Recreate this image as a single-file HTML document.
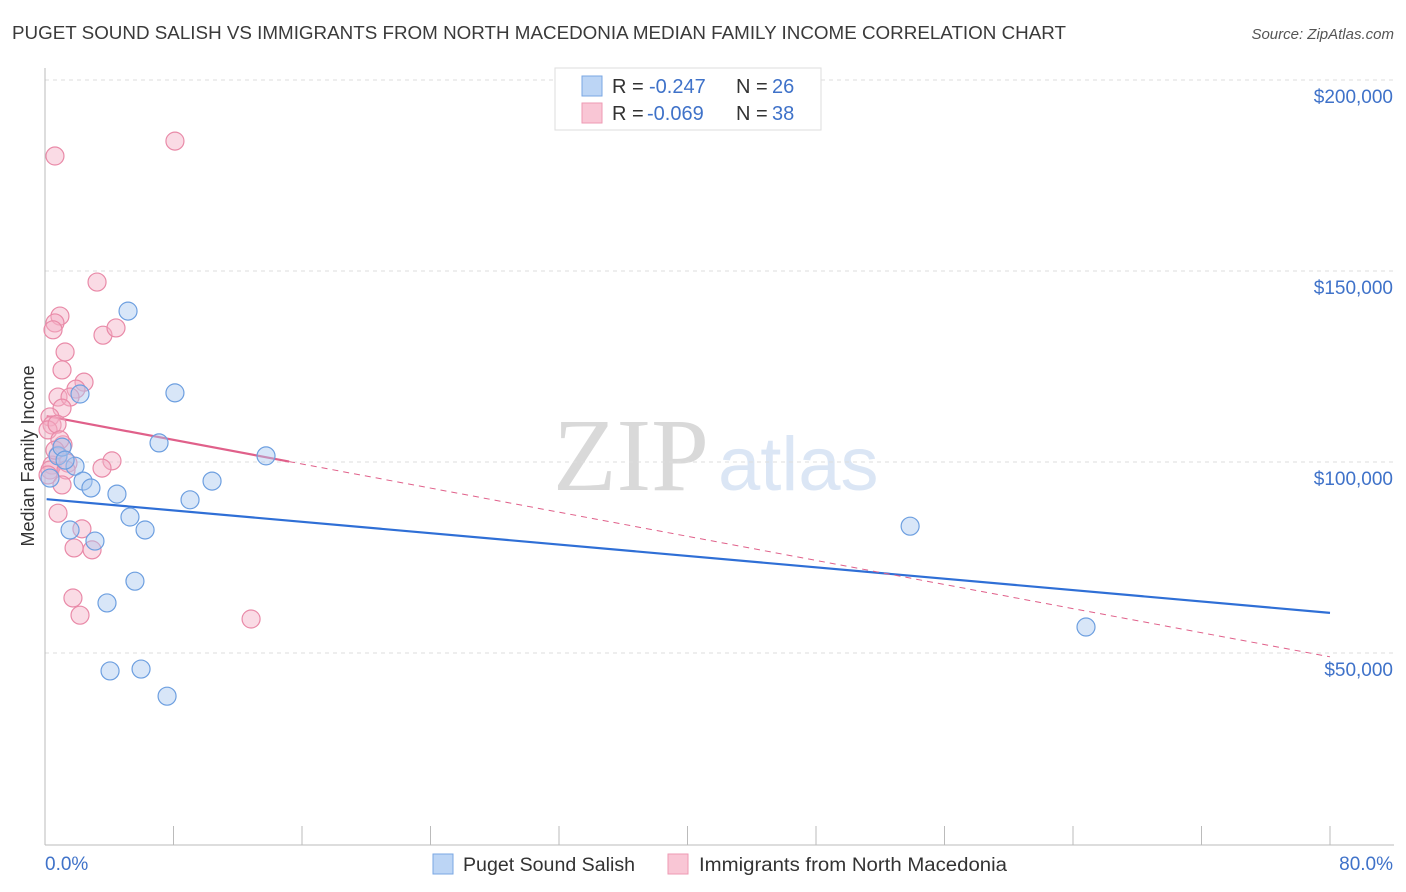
<!DOCTYPE html>
<html><head><meta charset="utf-8"><style>
body{margin:0;background:#fff;font-family:"Liberation Sans",sans-serif;}
svg{display:block}
</style></head><body>
<svg id="chart" width="1406" height="892" viewBox="0 0 1406 892" xmlns="http://www.w3.org/2000/svg">
<text x="12" y="39" font-size="18" fill="#3a3a3a" textLength="1054" lengthAdjust="spacingAndGlyphs">PUGET SOUND SALISH VS IMMIGRANTS FROM NORTH MACEDONIA MEDIAN FAMILY INCOME CORRELATION CHART</text>
<text x="1394" y="39" font-size="15" fill="#555" text-anchor="end" font-style="italic">Source: ZipAtlas.com</text>
<g>
<text x="553" y="490" font-family="Liberation Serif,serif" font-size="104" fill="#d9d9d9">ZIP</text>
<text x="718" y="490" font-size="76" fill="#dbe6f5">atlas</text>
</g>
<g id="grid"></g>
<g id="axes"></g>
<g id="trends"></g>
<g id="points"></g>
<text transform="translate(34,456) rotate(-90)" font-size="18" fill="#333" text-anchor="middle">Median Family Income</text>
<g>
<rect x="555" y="68" width="266" height="62" fill="#fff" stroke="#ddd"/>
<rect x="582" y="76" width="20" height="20" fill="#bcd5f5" stroke="#7aa7e3"/>
<rect x="582" y="103" width="20" height="20" fill="#f9c6d5" stroke="#ee9ab3"/>
<text x="612" y="93" font-size="20" fill="#333">R = <tspan fill="#3f72c9" x="649">-0.247</tspan><tspan x="736">N = </tspan><tspan fill="#3f72c9" x="772">26</tspan></text>
<text x="612" y="120" font-size="20" fill="#333">R = <tspan fill="#3f72c9" x="647">-0.069</tspan><tspan x="736">N = </tspan><tspan fill="#3f72c9" x="772">38</tspan></text>
</g>
<g>
<rect x="433" y="854" width="20" height="20" fill="#bcd5f5" stroke="#7aa7e3"/>
<text x="463" y="871" font-size="19" fill="#333" textLength="172" lengthAdjust="spacingAndGlyphs">Puget Sound Salish</text>
<rect x="668" y="854" width="20" height="20" fill="#f9c6d5" stroke="#ee9ab3"/>
<text x="699" y="871" font-size="19" fill="#333" textLength="308" lengthAdjust="spacingAndGlyphs">Immigrants from North Macedonia</text>
</g>
</svg>
<script>
const yTicks=[50000,100000,150000,200000];
const yTickLabels=["$50,000","$100,000","$150,000","$200,000"];
const xTicks=[0,8,16,24,32,40,48,56,64,72,80];
const blueX=[5.17,8.09,2.18,7.10,13.76,10.40,0.81,1.06,1.87,2.37,2.86,4.48,9.03,5.29,6.23,1.56,3.11,5.60,3.86,4.05,5.98,7.60,53.86,64.81,0.31,1.25];
const blueY=[139500,118100,117800,105000,101600,95000,101600,103900,98900,95000,93200,91600,90100,85600,82200,82200,79300,68800,63100,45300,45800,38700,83200,56800,95800,100500];
const pinkX=[0.62,8.09,3.24,0.93,0.62,0.50,3.61,4.42,1.25,1.06,2.43,1.93,0.81,1.56,1.06,0.31,0.44,0.19,0.75,1.12,0.81,0.44,0.31,0.19,1.43,4.17,3.55,1.31,1.06,0.81,2.30,1.81,2.93,1.74,2.18,12.83,0.93,0.62];
const pinkY=[180100,184000,147100,138200,136400,134600,133200,135100,128800,124100,120900,119100,117000,117000,114100,111800,109700,108400,109900,104500,101800,99200,97900,96600,99700,100300,98400,97900,94000,86600,82500,77500,77000,64400,59900,58900,105800,103100];
const blueTrend=[90300,60500];   // y at x=0 and x=80
const pinkTrend=[112100,49000];  // y at x=0 and x=80
const pinkSolidEnd=15.2;
const NS="http://www.w3.org/2000/svg";
const X=v=>45+v/80*1285, Y=v=>844-v/50000*191;
function mk(t,a,p){const e=document.createElementNS(NS,t);for(const k in a)e.setAttribute(k,a[k]);p.appendChild(e);return e;}
const grid=document.getElementById('grid'),axes=document.getElementById('axes'),tr=document.getElementById('trends'),pts=document.getElementById('points');
yTicks.forEach((v,i)=>{
 const l=mk('line',{x1:45,x2:1394,y1:Y(v),y2:Y(v),stroke:'#ddd','stroke-dasharray':'4,4'},grid);
 
 
 const t=mk('text',{x:1393,y:Y(v)+23,'font-size':19,fill:'#3f72c9','text-anchor':'end'},axes);
 t.textContent=yTickLabels[i];
 
 
});
const ya=mk('line',{x1:45,x2:45,y1:68,y2:845,stroke:'#bbb'},axes);


const xa=mk('line',{x1:45,x2:1394,y1:845,y2:845,stroke:'#bbb'},axes);


xTicks.forEach(v=>{
 const l=mk('line',{x1:X(v),x2:X(v),y1:826,y2:845,stroke:'#bbb'},axes);
 
 
});
[[0,'0.0%','start',45],[80,'80.0%','end',1393]].forEach(d=>{
 const t=mk('text',{x:d[3],y:870,'font-size':19,fill:'#3f72c9','text-anchor':d[2]},axes);
 t.textContent=d[1];
 
 
});
function drawPts(xs,ys,fill,stroke,name){
 xs.forEach((x,i)=>{
  const c=mk('circle',{cx:X(x),cy:Y(ys[i]),r:9,fill:fill,'fill-opacity':0.45,stroke:stroke,'stroke-width':1.2},pts);
  
  
 });
}
drawPts(pinkX,pinkY,'#f5b0c5','#e98aa8','point-macedonia');
drawPts(blueX,blueY,'#a9c8ef','#6d9fe0','point-salish');
const ty=(t,x)=>t[0]+(t[1]-t[0])*x/80;
const bl=mk('line',{x1:X(0.1),y1:Y(ty(blueTrend,0.1)),x2:X(80),y2:Y(ty(blueTrend,80)),stroke:'#2f6fd6','stroke-width':2.2},tr);


const pl=mk('line',{x1:X(0.1),y1:Y(ty(pinkTrend,0.1)),x2:X(pinkSolidEnd),y2:Y(ty(pinkTrend,pinkSolidEnd)),stroke:'#e0608a','stroke-width':2.2},tr);


const pd=mk('line',{x1:X(pinkSolidEnd),y1:Y(ty(pinkTrend,pinkSolidEnd)),x2:X(80),y2:Y(ty(pinkTrend,80)),stroke:'#e0608a','stroke-width':1,'stroke-dasharray':'6,5'},tr);


</script>
</body></html>
